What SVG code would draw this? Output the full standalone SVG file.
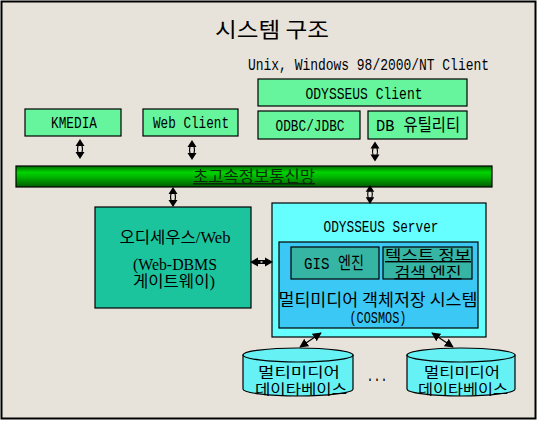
<svg xmlns="http://www.w3.org/2000/svg" width="539" height="422" viewBox="0 0 539 422">
<defs>
<style>
.bg{fill:#e8e3da;stroke:#000;stroke-width:2}
.lg{fill:#66f59c;stroke:#000;stroke-width:1.2}
.kr{font-family:"Noto Sans CJK KR","Liberation Sans",sans-serif;fill:#000}
.mono{font-family:"Liberation Mono","Noto Sans CJK KR",monospace;fill:#000;font-size:17px}
.serif{font-family:"Liberation Serif","Noto Sans CJK KR",serif;fill:#000;font-size:16px}
.c{text-anchor:middle}
.thin{stroke:#000;stroke-width:1.2;fill:none}
</style>
<linearGradient id="gbar" x1="0" y1="0" x2="0" y2="1">
<stop offset="0" stop-color="#006a00"/>
<stop offset="0.3" stop-color="#00d400"/>
<stop offset="0.55" stop-color="#00b000"/>
<stop offset="1" stop-color="#005a00"/>
</linearGradient>
<symbol id="va" viewBox="0 0 10 20" overflow="visible">
<path d="M5,0 L9.5,7 L0.5,7 Z M5,20 L9.5,13 L0.5,13 Z" fill="#000"/>
<path d="M3,6.5 Q2,10 3,13.5 L7,13.5 Q8,10 7,6.5 Z" fill="#e8e3da" stroke="#000" stroke-width="1.2"/>
</symbol>
<symbol id="ha" viewBox="0 0 23 10" overflow="visible">
<path d="M0,5 L8,0.5 L8,9.5 Z M23,5 L15,0.5 L15,9.5 Z" fill="#000"/>
<rect x="7" y="3" width="9" height="4" fill="#000"/>
<rect x="10.5" y="4.3" width="2" height="1.4" fill="#e8e3da"/>
</symbol>
<marker id="ah" viewBox="0 0 10 10" refX="9" refY="5" markerWidth="9" markerHeight="9" markerUnits="userSpaceOnUse" orient="auto-start-reverse">
<path d="M0,0 L10,5 L0,10 Z" fill="#000"/>
</marker>
</defs>

<rect class="bg" x="1.5" y="1.5" width="534" height="417"/>

<text class="kr c" x="272" y="37" font-size="21" textLength="114" lengthAdjust="spacingAndGlyphs">시스템 구조</text>
<text class="mono c" x="368.5" y="70" style="font-size:16px" textLength="241" lengthAdjust="spacingAndGlyphs">Unix, Windows 98/2000/NT Client</text>

<g id="odysseus-client">
<rect class="lg" x="258" y="79" width="209" height="27"/>
<text class="mono c" x="364" y="99" textLength="117" lengthAdjust="spacingAndGlyphs">ODYSSEUS Client</text>
</g>
<g id="kmedia">
<rect class="lg" x="25" y="109" width="96" height="27"/>
<text class="mono c" x="74" y="128" textLength="46" lengthAdjust="spacingAndGlyphs">KMEDIA</text>
</g>
<g id="web-client">
<rect class="lg" x="143" y="109" width="95" height="27"/>
<text class="mono c" x="191" y="128" textLength="76" lengthAdjust="spacingAndGlyphs">Web Client</text>
</g>
<g id="odbc-jdbc">
<rect class="lg" x="258" y="111" width="102" height="28"/>
<text class="mono c" x="310" y="131" textLength="69" lengthAdjust="spacingAndGlyphs">ODBC/JDBC</text>
</g>
<g id="db-utility">
<rect class="lg" x="368" y="111" width="99" height="28"/>
<text class="mono c" x="418" y="131" textLength="84" lengthAdjust="spacingAndGlyphs">DB 유틸리티</text>
</g>

<g id="network">
<rect x="16" y="166" width="476" height="21" fill="url(#gbar)" stroke="#000" stroke-width="1.2"/>
<text class="kr c" x="254" y="182" font-size="15.5" style="fill:#0a2a0a" text-decoration="underline" textLength="122" lengthAdjust="spacingAndGlyphs">초고속정보통신망</text>
</g>

<g id="odysseus-web">
<rect x="95" y="207" width="156" height="101" fill="#1cc49e" stroke="#000" stroke-width="1.2"/>
<text class="serif c" x="175" y="243" textLength="111" lengthAdjust="spacingAndGlyphs">오디세우스/Web</text>
<text class="serif c" x="175" y="270" textLength="84" lengthAdjust="spacingAndGlyphs">(Web-DBMS</text>
<text class="serif c" x="174" y="287" textLength="82" lengthAdjust="spacingAndGlyphs">게이트웨이)</text>
</g>

<g id="odysseus-server">
<rect x="272" y="203" width="214" height="134" fill="#66ffff" stroke="#000" stroke-width="1.2"/>
<text class="mono c" x="381" y="232" textLength="115" lengthAdjust="spacingAndGlyphs">ODYSSEUS Server</text>
</g>
<g id="cosmos">
<rect x="279" y="242" width="199" height="86" fill="#3cc8f5" stroke="#000" stroke-width="1.2"/>
<text class="kr c" x="378" y="306" font-size="16.5" textLength="199" lengthAdjust="spacingAndGlyphs">멀티미디어 객체저장 시스템</text>
<text class="mono c" x="378" y="323" textLength="57" lengthAdjust="spacingAndGlyphs">(COSMOS)</text>
</g>
<g id="gis-engine">
<rect x="291" y="247" width="88" height="32" fill="#36b5a5" stroke="#000" stroke-width="1.2"/>
<text class="mono c" x="334" y="269" textLength="60" lengthAdjust="spacingAndGlyphs">GIS 엔진</text>
</g>
<g id="text-search-engine">
<rect x="383" y="247" width="89" height="32" fill="#36b5a5" stroke="#000" stroke-width="1.2"/>
<text class="kr c" x="428" y="260" font-size="14" text-decoration="underline" textLength="86" lengthAdjust="spacingAndGlyphs">텍스트 정보</text>
<text class="kr c" x="428" y="277" font-size="14" text-decoration="underline" textLength="67" lengthAdjust="spacingAndGlyphs">검색 엔진</text>
</g>

<g id="mmdb-1">
<path d="M243,355 L243,389 A55,7 0 0 0 353,389 L353,355 Z" fill="#66f2f5" stroke="#000" stroke-width="1.2"/>
<ellipse cx="298" cy="355" rx="55" ry="7" fill="#66f2f5" stroke="#000" stroke-width="1.2"/>
<text class="kr c" x="299" y="377" font-size="14" textLength="82" lengthAdjust="spacingAndGlyphs">멀티미디어</text>
<text class="kr c" x="301" y="394" font-size="14" textLength="92" lengthAdjust="spacingAndGlyphs">데이타베이스</text>
</g>
<g id="mmdb-2">
<path d="M407,355 L407,389 A54,7 0 0 0 515,389 L515,355 Z" fill="#66f2f5" stroke="#000" stroke-width="1.2"/>
<ellipse cx="461" cy="355" rx="54" ry="7" fill="#66f2f5" stroke="#000" stroke-width="1.2"/>
<text class="kr c" x="462" y="377" font-size="14" textLength="76" lengthAdjust="spacingAndGlyphs">멀티미디어</text>
<text class="kr c" x="463" y="394" font-size="14" textLength="90" lengthAdjust="spacingAndGlyphs">데이타베이스</text>
</g>
<text class="mono c" x="377" y="381" textLength="21" lengthAdjust="spacingAndGlyphs">...</text>

<g id="connectors">
<use href="#va" x="75" y="139" width="10" height="20"/>
<use href="#va" x="187" y="140" width="10" height="20"/>
<use href="#va" x="370" y="141" width="10" height="21"/>
<use href="#va" x="168" y="187" width="10" height="20"/>
<use href="#va" x="365" y="185" width="10" height="19"/>
<use href="#ha" x="250" y="257" width="23" height="10"/>
<line class="thin" x1="300" y1="347" x2="321" y2="333" marker-start="url(#ah)" marker-end="url(#ah)"/>
<line class="thin" x1="432" y1="333" x2="453" y2="347" marker-start="url(#ah)" marker-end="url(#ah)"/>
</g>
</svg>
